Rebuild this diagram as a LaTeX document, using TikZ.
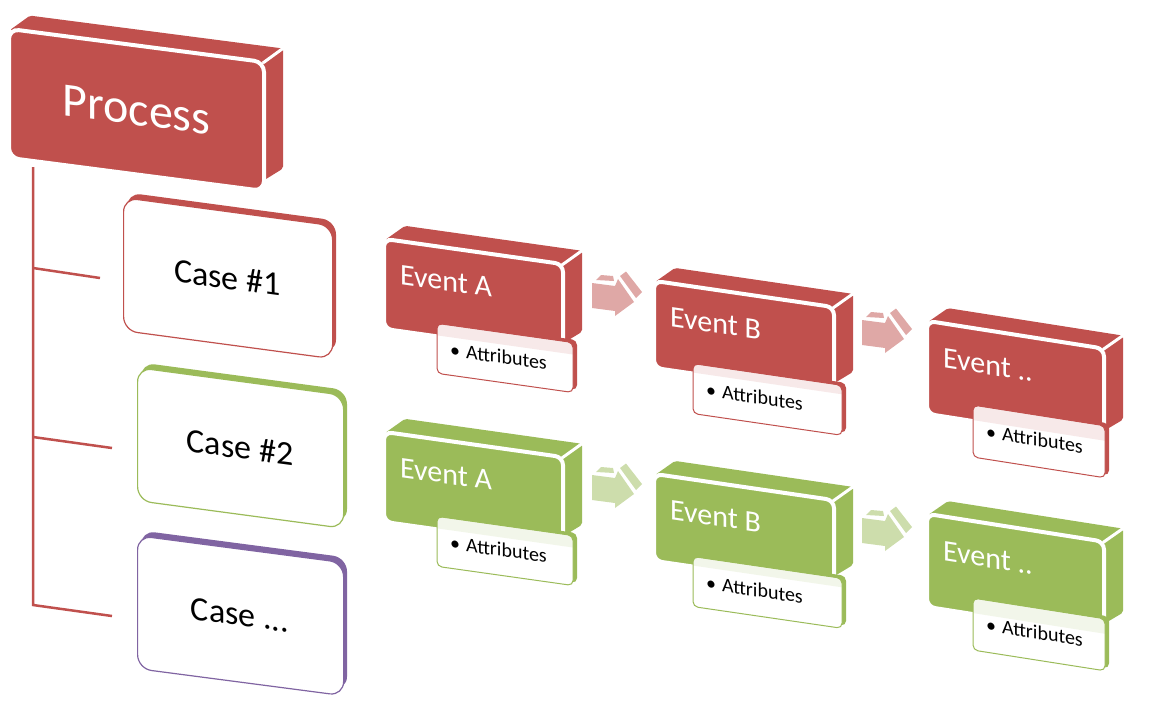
\documentclass[tikz,border=0pt]{standalone}
\usepackage{fontspec}
\setmainfont{Carlito}
\definecolor{cred}{HTML}{C0504D}
\definecolor{cgreen}{HTML}{9BBB59}
\definecolor{cpurple}{HTML}{8064A2}
\tikzset{
 frontbox/.style={fill=#1, draw=white, line width=4pt, rounded corners=8pt, transform shape, anchor=north west, inner sep=0pt, outer sep=0pt},
 sideface/.style={fill=#1, rounded corners=2pt},
 gapline/.style={draw=white, line width=3pt},
 casefront/.style={fill=white, draw=#1, line width=1.2pt, rounded corners=14pt, transform shape, anchor=north west, inner sep=0pt},
 caseback/.style={fill=#1, rounded corners=14pt},
 casetext/.style={transform shape, font=\fontsize{34}{40}\selectfont, text=black, inner sep=0pt},
 evtext/.style={transform shape, font=\fontsize{30}{36}\selectfont, text=white, anchor=base west, inner sep=0pt},
 proctext/.style={transform shape, font=\fontsize{48}{56}\selectfont, text=white, inner sep=0pt},
 attrtext/.style={transform shape, font=\fontsize{20}{24}\selectfont, text=black, anchor=base west, inner sep=0pt},
 attrface/.style={fill=white, rounded corners=5pt, transform shape, anchor=north west, inner sep=0pt},
 treeline/.style={draw=cred, line width=2.5pt},
 arrowpart/.style={fill=#1},
}
% 3D box: name, x, y, slope, w, h, colour, corner radius, content
\newcommand\cubebox[9]{%
 \begin{scope}[shift={(#2,#3)}, yslant=-#4]
  \fill[sideface=#7] (0,0) -- (#5,0) -- (#5+20,-17) -- (20,-17) -- cycle;
  \fill[sideface=#7] (#5,0) -- (#5,#6-9) -- (#5+20,#6-24) -- (#5+20,-17) -- cycle;
  \node[frontbox=#7, rounded corners=#8pt, minimum width=#5pt+2pt, minimum height=#6pt+2pt] (#1) at (-1,-1) {};
  \draw[gapline] (#5,0) -- (#5+21,-18);
  #9
 \end{scope}}
% attribute box: name, x, y, slope, a/b/w/h/H, colour
\newcommand\attrbox[6]{%
 \begin{scope}[shift={(#2,#3)}, yslant=-#4]
 \foreach \aa/\ab/\aw/\ah/\aH in {#5}{
  \fill[#6, rounded corners=5pt] (\aa+4,\ab-3) -- ++(\aw,0) -- ++(0,\ah) -- ++(-\aw,0) -- cycle;
  \node[attrface, minimum width=\aw*1pt, minimum height=\ah*1pt] (#1) at (\aa,\ab) {};
  \begin{scope}
   \clip[rounded corners=5pt] (\aa,\ab) -- ++(\aw,0) -- ++(0,\ah) -- ++(-\aw,0) -- cycle;
   \fill[#6, opacity=0.12] (\aa-5,\ab-10) -- (\aa+\aw+10,\ab-10) -- (\aa+\aw+10,\aH) -- (\aa-5,\aH) -- cycle;
  \end{scope}
  \draw[#6, line width=1pt, rounded corners=5pt] (\aa,\ab) -- ++(\aw,0) -- ++(0,\ah) -- ++(-\aw,0) -- cycle;
  \node[attrtext] (#1t) at (\aa+13,\ab+31) {\makebox[16pt][l]{\textbullet}Attributes};
 }
 \end{scope}}
% case box: name, x, y, slope, w, h, colour, text
\newcommand\casebox[8]{%
 \begin{scope}[shift={(#2,#3)}, yslant=-#4]
  \fill[caseback=#7] (4,-5) -- ++(#5,0) -- ++(0,#6) -- ++(-#5,0) -- cycle;
  \node[casefront=#7, minimum width=#5pt, minimum height=#6pt] (#1) at (0,0) {};
  \node[casetext] (#1t) at (#5/2,#6/2) {#8};
 \end{scope}}
% block arrow: x, y, colour
\newcommand\flowarr[3]{%
 \begin{scope}[shift={(#1,#2)}]
  \fill[arrowpart=#3] (0,0) -- (23,3) -- (26,-4) -- (42,19) -- (23,33) -- (23,28) -- (0,25) -- cycle;
  \fill[arrowpart=#3] (4,-3) -- (9,-8) -- (21,-7) -- (22,-2) -- cycle;
  \fill[arrowpart=#3] (28,-7) -- (34,-11.5) -- (50,9) -- (44,15) -- cycle;
 \end{scope}}
\begin{document}
\begin{tikzpicture}[x=1pt, y=-1pt]
\useasboundingbox (0,0) rectangle (1166,716);
% tree
\coordinate (tv0) at (33,167);
\coordinate (tv1) at (33,268);
\coordinate (tv2) at (33,437);
\coordinate (tv3) at (33,605);
\coordinate (tb1) at (100,278);
\coordinate (tb2) at (112,448);
\coordinate (tb3) at (112,616);
\draw[treeline] (tv0) -- (tv3) -- (tb3);
\draw[treeline] (tv1) -- (tb1);
\draw[treeline] (tv2) -- (tb2);
% cases
\casebox{c1}{123}{197}{0.134}{209}{133}{cred}{Case \#1}
\casebox{c2}{137}{367}{0.134}{206}{133}{cgreen}{Case \#2}
\casebox{c3}{137}{535}{0.131}{206}{133}{cpurple}{Case ...}
% process
\cubebox{proc}{10}{30}{0.13}{253}{127}{cred}{10}{\node[proctext] (proct) at (126.5,63.5) {Process};}
% red row
\cubebox{rA}{385}{240}{0.141}{177}{88}{cred}{8}{\node[evtext] (rAt) at (15,42) {Event A};}
\attrbox{rAa}{385}{240}{0.141}{52/76/136/50/88}{cred}
\cubebox{rB}{655}{282}{0.146}{178}{85}{cred}{8}{\node[evtext] (rBt) at (15,42) {Event B};}
\attrbox{rBa}{655}{282}{0.146}{38/76/149/50/85}{cred}
\cubebox{rC}{928}{322}{0.157}{175}{91}{cred}{8}{\node[evtext] (rCt) at (15,43) {Event ..};}
\attrbox{rCa}{928}{322}{0.157}{45/76/132/52/91}{cred}
\flowarr{592}{283}{cred!50!white}
\flowarr{862}{320}{cred!50!white}
% green row
\cubebox{gA}{385}{433}{0.141}{177}{88}{cgreen}{8}{\node[evtext] (gAt) at (15,42) {Event A};}
\attrbox{gAa}{385}{433}{0.141}{52/76/136/50/88}{cgreen}
\cubebox{gB}{655}{475}{0.146}{178}{85}{cgreen}{8}{\node[evtext] (gBt) at (15,42) {Event B};}
\attrbox{gBa}{655}{475}{0.146}{38/76/149/50/85}{cgreen}
\cubebox{gC}{928}{515}{0.157}{175}{91}{cgreen}{8}{\node[evtext] (gCt) at (15,43) {Event ..};}
\attrbox{gCa}{928}{515}{0.157}{45/76/132/52/91}{cgreen}
\flowarr{592}{475}{cgreen!50!white}
\flowarr{862}{518}{cgreen!50!white}
\end{tikzpicture}
\end{document}
